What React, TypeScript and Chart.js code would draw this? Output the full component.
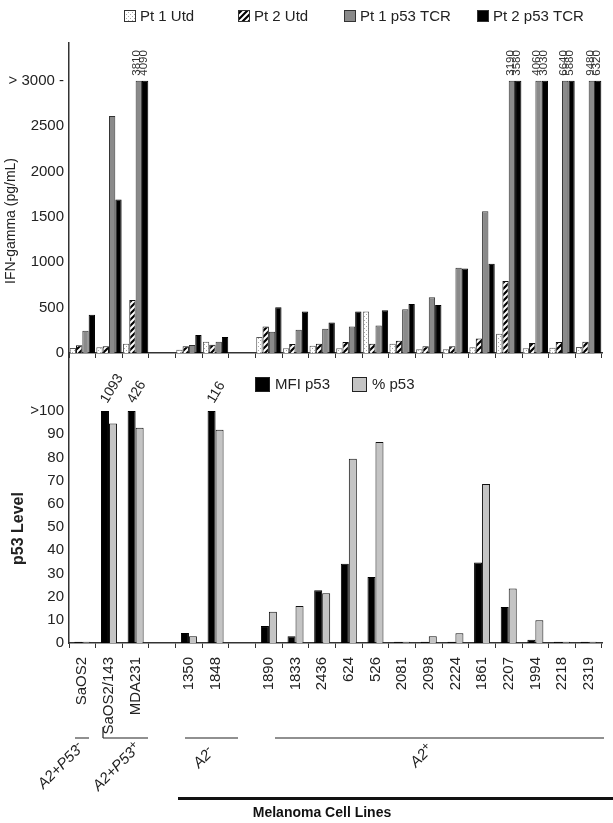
import React, { useEffect, useRef } from 'react';
import { Chart, registerables } from 'chart.js';
Chart.register(...registerables);

const FONT = "'Liberation Sans', Arial, sans-serif";

const categories = ['SaOS2', 'SaOS2/143', 'MDA231', '', '1350', '1848', '', '1890', '1833', '2436', '624', '526', '2081', '2098', '2224', '1861', '2207', '1994', '2218', '2319'];

// IFN-gamma (pg/mL)
const pt1Utd = [55, 62, 102, null, 37, 124, null, 175, 51, 80, 51, 456, 102, 40, 40, 62, 212, 51, 58, 66];
const pt2Utd = [84, 73, 584, null, 73, 91, null, 292, 99, 102, 120, 102, 135, 73, 73, 161, 792, 110, 120, 124];
const pt1Tcr = [245, 2610, 3810, null, 88, 124, null, 234, 256, 266, 292, 303, 482, 613, 938, 1562, 3190, 4060, 6640, 9480];
const pt2Tcr = [420, 1690, 4090, null, 197, 175, null, 504, 456, 336, 456, 471, 540, 529, 931, 982, 3580, 3030, 5880, 6320];

// p53 level
const mfiP53 = [0.5, 1093, 426, null, 4.3, 116, null, 7.3, 2.9, 22.7, 34.2, 28.5, 0.5, 0.5, 0.5, 34.7, 15.5, 1.4, 0.5, 0.5];
const pctP53 = [0.5, 94.6, 92.8, null, 2.9, 91.9, null, 13.5, 16.0, 21.4, 79.4, 86.6, 0.5, 2.9, 4.2, 68.5, 23.5, 9.8, 0.5, 0.5];

const ifnTicks = [0, 500, 1000, 1500, 2000, 2500, 3000];
const p53Ticks = [0, 10, 20, 30, 40, 50, 60, 70, 80, 90, 100];
const IFN_CAP = 3000;
const P53_CAP = 100;

const topLegend = ['Pt 1 Utd', 'Pt 2 Utd', 'Pt 1 p53 TCR', 'Pt 2 p53 TCR'];
const bottomLegend = ['MFI p53', '% p53'];

const cap = (arr: (number | null)[], c: number) => arr.map((v) => (v == null ? null : Math.min(v, c)));

function dotPattern(ctx: CanvasRenderingContext2D) {
  const c = document.createElement('canvas');
  c.width = 4; c.height = 4;
  const x = c.getContext('2d')!;
  x.fillStyle = '#ffffff'; x.fillRect(0, 0, 4, 4);
  x.fillStyle = '#a8a8a8';
  x.fillRect(0, 0, 1, 1); x.fillRect(2, 2, 1, 1);
  return ctx.createPattern(c, 'repeat')!;
}
function stripePattern(ctx: CanvasRenderingContext2D) {
  const s = 6;
  const c = document.createElement('canvas');
  c.width = s; c.height = s;
  const x = c.getContext('2d')!;
  x.fillStyle = '#ffffff'; x.fillRect(0, 0, s, s);
  x.strokeStyle = '#000'; x.lineWidth = 2.2;
  x.beginPath();
  x.moveTo(-1, s + 1); x.lineTo(s + 1, -1);
  x.moveTo(-1, 1); x.lineTo(1, -1);
  x.moveTo(s - 1, s + 1); x.lineTo(s + 1, s - 1);
  x.stroke();
  return ctx.createPattern(c, 'repeat')!;
}

const zeroPad = (s: any) => { s.paddingTop = 0; s.paddingBottom = 0; s.paddingLeft = 0; s.paddingRight = 0; };

export default function App() {
  const topRef = useRef<HTMLCanvasElement>(null);
  const botRef = useRef<HTMLCanvasElement>(null);

  useEffect(() => {
    const tctx = topRef.current!.getContext('2d')!;
    const dots = dotPattern(tctx);
    const stripes = stripePattern(tctx);
    const fills: any[] = [dots, stripes, '#8a8a8a', '#000000'];

    const topChart = new Chart(topRef.current!, {
      type: 'bar',
      data: {
        labels: categories,
        datasets: [
          { label: topLegend[0], data: cap(pt1Utd, IFN_CAP), backgroundColor: dots, borderColor: '#555', borderWidth: 1 },
          { label: topLegend[1], data: cap(pt2Utd, IFN_CAP), backgroundColor: stripes, borderColor: '#111', borderWidth: 1 },
          { label: topLegend[2], data: cap(pt1Tcr, IFN_CAP), backgroundColor: '#8a8a8a', borderColor: '#333', borderWidth: 1 },
          { label: topLegend[3], data: cap(pt2Tcr, IFN_CAP), backgroundColor: '#000', borderColor: '#000', borderWidth: 1 },
        ] as any,
      },
      options: {
        animation: false,
        responsive: false,
        maintainAspectRatio: false,
        layout: { padding: { top: 43, right: 11, left: 0, bottom: 0 } },
        datasets: { bar: { categoryPercentage: 0.95, barPercentage: 1 } },
        plugins: { legend: { display: false }, tooltip: { enabled: false } },
        scales: {
          x: {
            grid: { display: true, drawOnChartArea: false, drawTicks: true, tickLength: 5, color: '#333', lineWidth: 1, offset: true },
            border: { display: true, color: '#333', width: 1.5 },
            ticks: { display: false },
            afterFit: (s: any) => { s.height = 5; zeroPad(s); },
          },
          y: {
            min: 0, max: 3415,
            grid: { display: false, drawTicks: false },
            border: { display: true, color: '#333', width: 1.5 },
            ticks: {
              font: { family: FONT, size: 15 }, color: '#222', padding: 5,
              callback: (v: any) => (Number(v) === IFN_CAP ? '> 3000 -' : String(v)),
            },
            afterBuildTicks: (s: any) => { s.ticks = ifnTicks.map((v) => ({ value: v })); },
            afterFit: (s: any) => { s.width = 69; zeroPad(s); },
          },
        },
      } as any,
      plugins: [{
        id: 'topDecor',
        afterDraw(chart: any) {
          const ctx = chart.ctx;
          const ys = chart.scales.y;
          ctx.save();
          // capped value labels
          const raw = [pt1Utd, pt2Utd, pt1Tcr, pt2Tcr];
          raw.forEach((arr, d) => {
            const meta = chart.getDatasetMeta(d);
            arr.forEach((v, j) => {
              if (v != null && v > IFN_CAP) {
                const bar = meta.data[j];
                ctx.save();
                ctx.translate(bar.x - 1.5, ys.getPixelForValue(IFN_CAP) - 5);
                ctx.rotate(-Math.PI / 2);
                ctx.font = `11.5px ${FONT}`;
                ctx.fillStyle = '#333';
                ctx.textAlign = 'left';
                ctx.textBaseline = 'middle';
                ctx.fillText(String(v), 0, 0);
                ctx.restore();
              }
            });
          });
          // axis title
          ctx.save();
          ctx.translate(11, 221);
          ctx.rotate(-Math.PI / 2);
          ctx.font = `14px ${FONT}`;
          ctx.fillStyle = '#222';
          ctx.textAlign = 'center';
          ctx.textBaseline = 'middle';
          ctx.fillText('IFN-gamma (pg/mL)', 0, 0);
          ctx.restore();
          // legend
          const bx = [124, 238, 344, 477];
          bx.forEach((x, i) => {
            ctx.fillStyle = fills[i];
            ctx.fillRect(x, 10, 12, 12);
            ctx.strokeStyle = '#333';
            ctx.lineWidth = 1;
            ctx.strokeRect(x + 0.5, 10.5, 11, 11);
            ctx.font = `15px ${FONT}`;
            ctx.fillStyle = '#222';
            ctx.textAlign = 'left';
            ctx.textBaseline = 'middle';
            ctx.fillText(topLegend[i], x + 16, 16.5);
          });
          ctx.restore();
        },
      }],
    });

    const botChart = new Chart(botRef.current!, {
      type: 'bar',
      data: {
        labels: categories,
        datasets: [
          { label: bottomLegend[0], data: cap(mfiP53, P53_CAP), backgroundColor: '#000', borderColor: '#000', borderWidth: 1 },
          { label: bottomLegend[1], data: cap(pctP53, P53_CAP), backgroundColor: '#c4c4c4', borderColor: '#111', borderWidth: 1 },
        ] as any,
      },
      options: {
        animation: false,
        responsive: false,
        maintainAspectRatio: false,
        layout: { padding: { top: 0, right: 11, left: 0, bottom: 0 } },
        datasets: { bar: { categoryPercentage: 0.6, barPercentage: 1 } },
        plugins: { legend: { display: false }, tooltip: { enabled: false } },
        scales: {
          x: {
            grid: { display: true, drawOnChartArea: false, drawTicks: true, tickLength: 5, color: '#333', lineWidth: 1, offset: true },
            border: { display: true, color: '#333', width: 1.5 },
            ticks: { autoSkip: false, maxRotation: 90, minRotation: 90, padding: 9, font: { family: FONT, size: 15 }, color: '#222' },
            afterFit: (s: any) => { s.height = 180; zeroPad(s); },
          },
          y: {
            min: 0, max: 125,
            grid: { display: false, drawTicks: false },
            border: { display: true, color: '#333', width: 1.5 },
            ticks: {
              font: { family: FONT, size: 15 }, color: '#222', padding: 5,
              callback: (v: any) => (Number(v) === P53_CAP ? '>100' : String(v)),
            },
            afterBuildTicks: (s: any) => { s.ticks = p53Ticks.map((v) => ({ value: v })); },
            afterFit: (s: any) => { s.width = 69; zeroPad(s); },
          },
        },
      } as any,
      plugins: [{
        id: 'botDecor',
        afterDraw(chart: any) {
          const ctx = chart.ctx;
          const ys = chart.scales.y;
          const OY = 353; // page offset of this canvas
          ctx.save();
          // capped value labels
          [mfiP53, pctP53].forEach((arr, d) => {
            const meta = chart.getDatasetMeta(d);
            arr.forEach((v, j) => {
              if (v != null && v > P53_CAP) {
                const bar = meta.data[j];
                ctx.save();
                ctx.translate(bar.x - 1, ys.getPixelForValue(P53_CAP) - 9);
                ctx.rotate(-59 * Math.PI / 180);
                ctx.font = `14px ${FONT}`;
                ctx.fillStyle = '#222';
                ctx.textAlign = 'left';
                ctx.textBaseline = 'middle';
                ctx.fillText(String(v), 0, 0);
                ctx.restore();
              }
            });
          });
          // axis title
          ctx.save();
          ctx.translate(19, 528.5 - OY);
          ctx.rotate(-Math.PI / 2);
          ctx.font = `bold 16px ${FONT}`;
          ctx.fillStyle = '#222';
          ctx.textAlign = 'center';
          ctx.textBaseline = 'middle';
          ctx.fillText('p53 Level', 0, 0);
          ctx.restore();
          // legend
          const lx = [255, 352];
          const lf = ['#000', '#c4c4c4'];
          lx.forEach((x, i) => {
            ctx.fillStyle = lf[i];
            ctx.fillRect(x, 377 - OY, 15, 15);
            ctx.strokeStyle = '#222';
            ctx.lineWidth = 1;
            ctx.strokeRect(x + 0.5, 377.5 - OY, 14, 14);
            ctx.font = `15px ${FONT}`;
            ctx.fillStyle = '#222';
            ctx.textAlign = 'left';
            ctx.textBaseline = 'middle';
            ctx.fillText(bottomLegend[i], x + 20, 385 - OY);
          });
          // group brackets
          ctx.strokeStyle = '#222';
          ctx.lineWidth = 1.2;
          const ly = 738 - OY;
          const segs = [[75, 89], [103, 148], [185, 238], [275, 604]];
          ctx.beginPath();
          segs.forEach(([a, b]) => { ctx.moveTo(a, ly); ctx.lineTo(b, ly); });
          ctx.moveTo(103, ly); ctx.lineTo(103, 727 - OY);
          ctx.stroke();
          // group labels
          const groups: [string, string, number, number][] = [
            ['A2+P53', '-', 61, 766],
            ['A2+P53', '+', 117, 767],
            ['A2', '-', 204, 758],
            ['A2', '+', 422, 756],
          ];
          groups.forEach(([base, sup, cx, cy]) => {
            ctx.save();
            ctx.translate(cx, cy - OY);
            ctx.rotate(-Math.PI / 4);
            ctx.font = `italic 15px ${FONT}`;
            const w1 = ctx.measureText(base).width;
            ctx.font = `italic 12px ${FONT}`;
            const w2 = ctx.measureText(sup).width;
            const start = -(w1 + w2) / 2;
            ctx.fillStyle = '#222';
            ctx.textAlign = 'left';
            ctx.textBaseline = 'middle';
            ctx.font = `italic 15px ${FONT}`;
            ctx.fillText(base, start, 0);
            ctx.font = `italic 12px ${FONT}`;
            ctx.fillText(sup, start + w1, -4);
            ctx.restore();
          });
          // melanoma bar
          ctx.fillStyle = '#111';
          ctx.fillRect(178, 797 - OY, 435, 3);
          ctx.font = `bold 14px ${FONT}`;
          ctx.textAlign = 'center';
          ctx.textBaseline = 'middle';
          ctx.fillText('Melanoma Cell Lines', 322, 813 - OY);
          ctx.restore();
        },
      }],
    });

    return () => { topChart.destroy(); botChart.destroy(); };
  }, []);

  return (
    <div style={{ position: 'absolute', left: 0, top: 0, width: 613, height: 823, background: '#fff' }}>
      <canvas ref={topRef} width={613} height={358} style={{ position: 'absolute', left: 0, top: 0, width: 613, height: 358 }} />
      <canvas ref={botRef} width={613} height={470} style={{ position: 'absolute', left: 0, top: 353, width: 613, height: 470 }} />
    </div>
  );
}
